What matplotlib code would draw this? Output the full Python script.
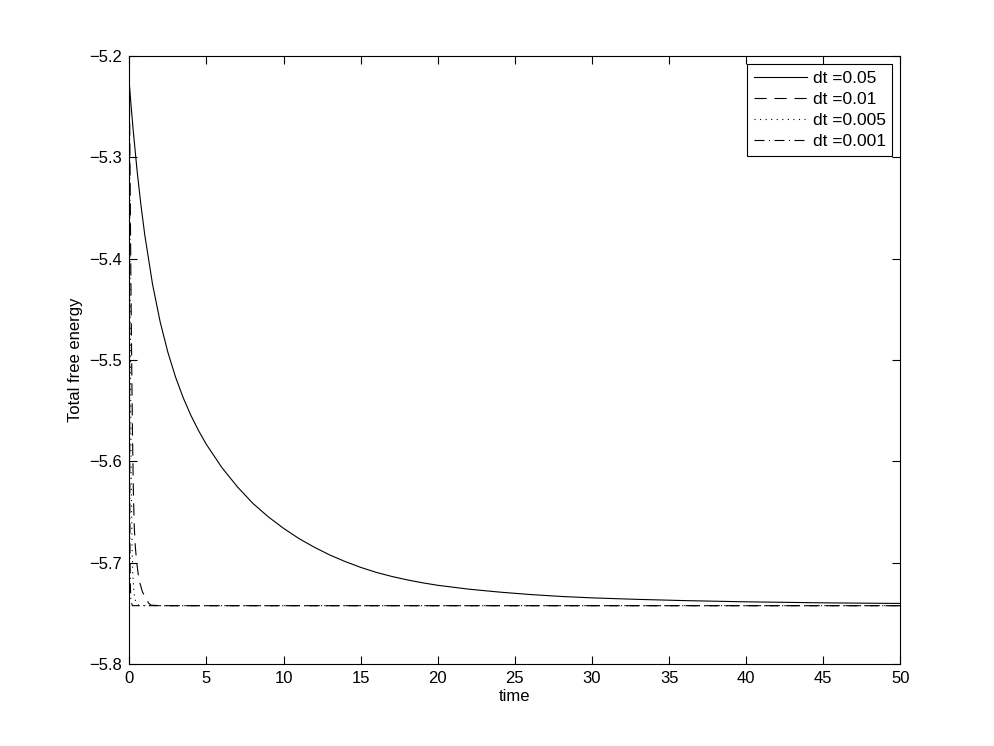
import numpy as np
import matplotlib.pyplot as plt

plt.rcParams['font.family'] = ['Liberation Sans', 'DejaVu Sans']

# dt = 0.05
t1 = [0, 0.1, 0.25, 0.5, 0.75, 1.0, 1.5, 2, 2.5, 3, 3.5, 4, 4.5, 5, 6, 7, 8,
      9, 10, 11, 12, 13, 14, 15, 16, 17, 18, 19, 20, 22, 24, 26, 28, 30, 33,
      36, 40, 45, 50]
e1 = [-5.2275, -5.2468, -5.2735, -5.3130, -5.3471, -5.3766, -5.4250, -5.4626,
      -5.4926, -5.5171, -5.5376, -5.5550, -5.5701, -5.5835, -5.6062, -5.6251,
      -5.6414, -5.6547, -5.6662, -5.6763, -5.6849, -5.6925, -5.6990, -5.7047,
      -5.7096, -5.7136, -5.7170, -5.7199, -5.7224, -5.7262, -5.7291, -5.7315,
      -5.7334, -5.7348, -5.7363, -5.7375, -5.7387, -5.7397, -5.7403]
# dt = 0.01
t2 = [0, 0.05, 0.1, 0.15, 0.2, 0.26, 0.32, 0.39, 0.48, 0.58, 0.7, 0.85, 1.0,
      1.1, 1.25, 1.4, 2, 5, 10, 20, 30, 40, 50]
e2 = [-5.227, -5.32, -5.42, -5.50, -5.57, -5.63, -5.665, -5.685, -5.70, -5.712,
      -5.721, -5.729, -5.733, -5.736, -5.740, -5.742, -5.7425, -5.7425, -5.7425,
      -5.7425, -5.7425, -5.7425, -5.7425]
# dt = 0.005
t3 = [0, 0.03, 0.06, 0.1, 0.13, 0.17, 0.22, 0.3, 0.4, 0.6, 1, 50]
e3 = [-5.227, -5.35, -5.47, -5.57, -5.63, -5.68, -5.71, -5.73, -5.738, -5.742,
      -5.7425, -5.7425]
# dt = 0.001
t4 = [0, 0.01, 0.02, 0.04, 0.06, 0.1, 0.2, 50]
e4 = [-5.227, -5.40, -5.55, -5.68, -5.72, -5.738, -5.7425, -5.7425]

fig = plt.figure(figsize=(9.95, 7.46), dpi=100)
ax = fig.add_axes([0.13, 0.11, 0.775, 0.815])  # matlab default position

ax.plot(t1, e1, 'k-', lw=0.8, label='dt =0.05')
ax.plot(t2, e2, 'k--', lw=0.8, label='dt =0.01', dashes=(11, 7))
ax.plot(t3, e3, 'k:', lw=0.8, label='dt =0.005', dashes=(1, 4))
ax.plot(t4, e4, 'k-.', lw=0.8, label='dt =0.001', dashes=(9, 4, 1, 4))

ax.set_xlim(0, 50)
ax.set_ylim(-5.8, -5.2)
ax.set_xticks(np.arange(0, 51, 5))
ax.set_yticks(np.arange(-5.8, -5.19, 0.1))
ax.set_yticklabels(['\u22125.8', '\u22125.7', '\u22125.6', '\u22125.5',
                    '\u22125.4', '\u22125.3', '\u22125.2'])
ax.tick_params(direction='in', top=True, right=True, length=5.5, width=0.8,
               labelsize=12, pad=5)
for s in ax.spines.values():
    s.set_linewidth(0.8)
ax.set_xlabel('time', fontsize=12, labelpad=2)
ax.set_ylabel('Total free energy', fontsize=12, labelpad=5)

leg = ax.legend(loc='upper right', fontsize=12.5, handlelength=3.05,
                fancybox=False, framealpha=1, borderaxespad=0.46,
                labelspacing=0.33, handletextpad=0.3, borderpad=0.4)
leg.get_frame().set_edgecolor('black')
leg.get_frame().set_linewidth(0.8)

fig.savefig('out.png', dpi=100)
